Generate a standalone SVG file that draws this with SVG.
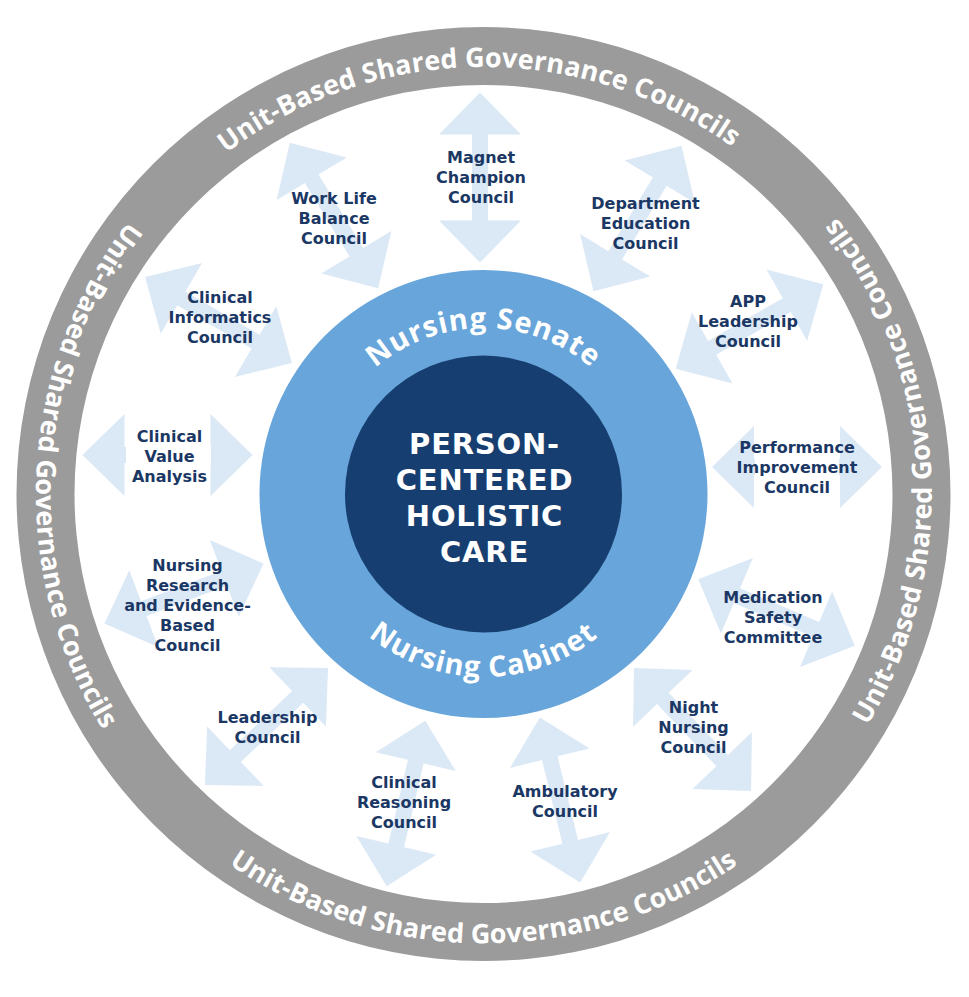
<svg xmlns="http://www.w3.org/2000/svg" xmlns:xlink="http://www.w3.org/1999/xlink" width="969" height="997" viewBox="0 0 969 997">
<style>
.ring{fill:#9b9b9b}
.ringtxt{font-family:"Open Sans","Liberation Sans",sans-serif;font-weight:700;font-size:27px;fill:#ffffff;letter-spacing:0.1px}
.arrow{fill:#dbe8f5}
.lbl{font-family:"DejaVu Sans","Open Sans",sans-serif;font-weight:700;font-size:16px;fill:#1b3764;text-anchor:middle}
.senate{font-family:"Open Sans","Liberation Sans",sans-serif;font-weight:700;font-size:29px;fill:#ffffff;letter-spacing:1px}
.core{font-family:"DejaVu Sans","Open Sans",sans-serif;font-weight:700;font-size:29px;fill:#ffffff;text-anchor:middle;letter-spacing:0.8px}
</style>
<defs>
<polygon id="arr" points="-85,0 -43,-41 -43,-8 43,-8 43,-41 85,0 43,41 43,8 -43,8 -43,41"/>
<path id="pTop" d="M 56.5 494 A 427 427 0 0 1 910.5 494"/>
<path id="pRight" d="M 510.94 942.66 A 449.5 449.5 0 0 0 456.06 45.34"/>
<path id="pLeft" d="M 505.85 45.06 A 449.5 449.5 0 0 0 461.15 942.94"/>
<path id="pBottom" d="M 34 494 A 449.5 449.5 0 0 0 933 494"/>
<path id="pSenate" d="M 317.5 494 A 166 166 0 0 1 649.5 494"/>
<path id="pCabinet" d="M 300.5 494 A 183 183 0 0 0 666.5 494"/>
</defs>
<rect width="969" height="997" fill="#ffffff"/>

<g id="outer-ring">
<path class="ring" fill-rule="evenodd" d="M 16.5 494 A 467 467 0 1 0 950.5 494 A 467 467 0 1 0 16.5 494 Z M 74.5 494 A 409 409 0 1 1 892.5 494 A 409 409 0 1 1 74.5 494 Z"/>
<text class="ringtxt"><textPath href="#pTop" startOffset="49.6%" text-anchor="middle">Unit-Based Shared Governance Councils</textPath></text>
<text class="ringtxt"><textPath href="#pRight" startOffset="50%" text-anchor="middle">Unit-Based Shared Governance Councils</textPath></text>
<text class="ringtxt"><textPath href="#pLeft" startOffset="50%" text-anchor="middle">Unit-Based Shared Governance Councils</textPath></text>
<text class="ringtxt"><textPath href="#pBottom" startOffset="50%" text-anchor="middle">Unit-Based Shared Governance Councils</textPath></text>
</g>

<g id="connectors">
<use href="#arr" class="arrow" transform="translate(480 177.5) rotate(90)"/>
<use href="#arr" class="arrow" transform="translate(637.5 218.5) rotate(-58.8)"/>
<use href="#arr" class="arrow" transform="translate(749.5 326.5) rotate(-29.8)"/>
<use href="#arr" class="arrow" transform="translate(797 467) rotate(0)"/>
<use href="#arr" class="arrow" transform="translate(776.5 612.5) rotate(23)"/>
<use href="#arr" class="arrow" transform="translate(692.5 729.5) rotate(46.4)"/>
<use href="#arr" class="arrow" transform="translate(560 800) rotate(76.3)"/>
<use href="#arr" class="arrow" transform="translate(406 803.5) rotate(103.1)"/>
<use href="#arr" class="arrow" transform="translate(266.5 726.5) rotate(136.4)"/>
<use href="#arr" class="arrow" transform="translate(184 593.5) rotate(159.4)"/>
<use href="#arr" class="arrow" transform="translate(167.5 455) rotate(0)"/>
<use href="#arr" class="arrow" transform="translate(218.5 320) rotate(30.3)"/>
<use href="#arr" class="arrow" transform="translate(334 215.5) rotate(58.7)"/>
<rect x="126" y="445" width="85" height="20" fill="#ffffff"/>
<rect x="755" y="457" width="84" height="20" fill="#ffffff"/>
</g>

<g id="senate-ring">
<circle cx="483.5" cy="494" r="224" fill="#68a5da"/>
<text class="senate"><textPath href="#pSenate" startOffset="50%" text-anchor="middle">Nursing Senate</textPath></text>
<text class="senate"><textPath href="#pCabinet" startOffset="50%" text-anchor="middle">Nursing Cabinet</textPath></text>
</g>

<g id="core">
<circle cx="483.5" cy="494" r="138.5" fill="#173e70"/>
<text class="core" x="484.5" y="453.5">PERSON-<tspan x="484.5" dy="36.5">CENTERED</tspan><tspan x="484.5" dy="36">HOLISTIC</tspan><tspan x="484.5" dy="36">CARE</tspan></text>
</g>

<g id="magnet"><text class="lbl" x="481" y="163">Magnet<tspan x="481" dy="20">Champion</tspan><tspan x="481" dy="20">Council</tspan></text></g>
<g id="dept-education"><text class="lbl" x="645.5" y="209">Department<tspan x="645.5" dy="20">Education</tspan><tspan x="645.5" dy="20">Council</tspan></text></g>
<g id="app-leadership"><text class="lbl" x="748" y="307">APP<tspan x="748" dy="20">Leadership</tspan><tspan x="748" dy="20">Council</tspan></text></g>
<g id="performance"><text class="lbl" x="797" y="453">Performance<tspan x="797" dy="20">Improvement</tspan><tspan x="797" dy="20">Council</tspan></text></g>
<g id="medication"><text class="lbl" x="773" y="603">Medication<tspan x="773" dy="20">Safety</tspan><tspan x="773" dy="20">Committee</tspan></text></g>
<g id="night"><text class="lbl" x="693.5" y="713">Night<tspan x="693.5" dy="20">Nursing</tspan><tspan x="693.5" dy="20">Council</tspan></text></g>
<g id="ambulatory"><text class="lbl" x="565" y="797">Ambulatory<tspan x="565" dy="20">Council</tspan></text></g>
<g id="clinical-reasoning"><text class="lbl" x="404" y="788">Clinical<tspan x="404" dy="20">Reasoning</tspan><tspan x="404" dy="20">Council</tspan></text></g>
<g id="leadership"><text class="lbl" x="267.5" y="723">Leadership<tspan x="267.5" dy="20">Council</tspan></text></g>
<g id="nursing-research"><text class="lbl" x="187.5" y="571">Nursing<tspan x="187.5" dy="20">Research</tspan><tspan x="187.5" dy="20">and Evidence-</tspan><tspan x="187.5" dy="20">Based</tspan><tspan x="187.5" dy="20">Council</tspan></text></g>
<g id="clinical-value"><text class="lbl" x="169.5" y="442">Clinical<tspan x="169.5" dy="20">Value</tspan><tspan x="169.5" dy="20">Analysis</tspan></text></g>
<g id="clinical-informatics"><text class="lbl" x="220" y="303">Clinical<tspan x="220" dy="20">Informatics</tspan><tspan x="220" dy="20">Council</tspan></text></g>
<g id="work-life"><text class="lbl" x="334" y="204">Work Life<tspan x="334" dy="20">Balance</tspan><tspan x="334" dy="20">Council</tspan></text></g>
</svg>
